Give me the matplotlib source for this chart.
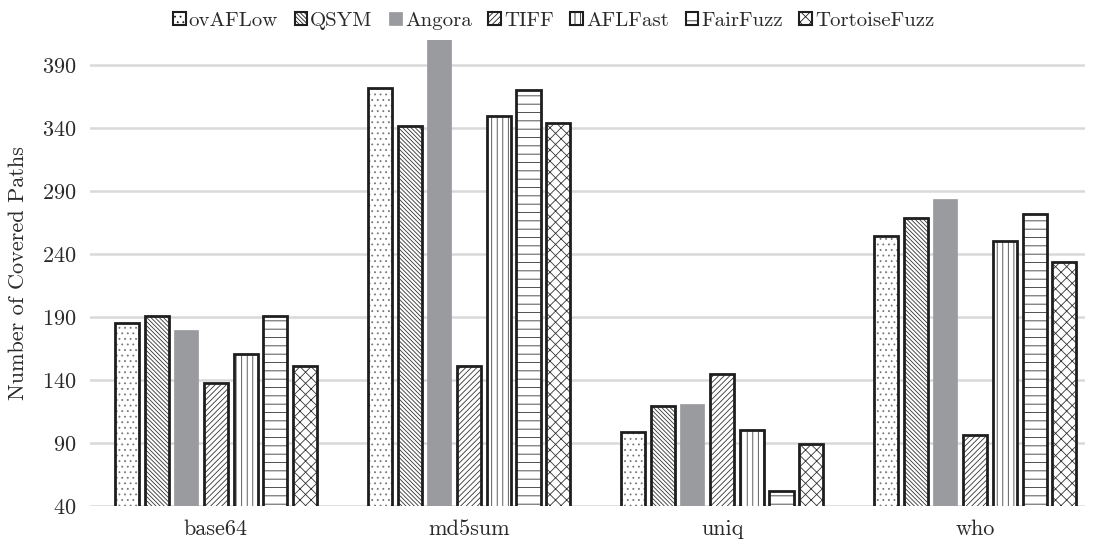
import numpy as np
import matplotlib.pyplot as plt
from matplotlib.patches import Patch

plt.rcParams["font.family"] = ["cmr10", "DejaVu Serif"]
plt.rcParams["axes.formatter.use_mathtext"] = True
plt.rcParams["mathtext.fontset"] = "cm"
plt.rcParams["hatch.linewidth"] = 0.6

programs = ["base64", "md5sum", "uniq", "who"]
fuzzers = ["ovAFLow", "QSYM", "Angora", "TIFF", "AFLFast", "FairFuzz", "TortoiseFuzz"]

ovaflow = [185, 372, 99, 254]
qsym = [191, 342, 119, 269]
angora = [180, 420, 121, 284]
tiff = [138, 151, 145, 96]
aflfast = [161, 350, 100, 250]
fairfuzz = [191, 370, 52, 272]
tortoise = [151, 344, 89, 234]

series = [ovaflow, qsym, angora, tiff, aflfast, fairfuzz, tortoise]
hatches = ["...", "\\" * 8, None, "/" * 6, "|||", "--", "xxx"]
hatch_colors = ["#777777", "#333333", None, "#333333", "#444444", "#333333", "#333333"]
grey = "#9a9b9f"

fig = plt.figure(figsize=(10.96, 5.40), dpi=100)
ax = fig.add_axes([0.0821, 0.063, 0.908, 0.863])

x = np.arange(len(programs))
step = 0.1175
width = 0.095
handles = []
for i, vals in enumerate(series):
    pos = x + (i - 3) * step
    if hatches[i] is None:
        ax.bar(pos, vals, width, color=grey, edgecolor=grey, linewidth=0.5, zorder=3)
        handles.append(Patch(facecolor=grey, edgecolor=grey, linewidth=0.5))
        continue
    # hatch layer first, then the black outline on top
    ax.bar(pos, vals, width, color="white", edgecolor=hatch_colors[i],
           hatch=hatches[i], linewidth=0, zorder=3)
    ax.bar(pos, vals, width, fill=False, edgecolor="#1e1e1e", linewidth=2, zorder=4)
    handles.append(Patch(facecolor="white", edgecolor="#1e1e1e", hatch=hatches[i],
                         linewidth=1.5))

ax.set_ylim(40, 410)
ax.set_xlim(-0.498, 3.435)
ax.set_yticks(np.arange(40, 391, 50))
ax.set_xticks(x)
ax.set_xticklabels(programs)
ax.tick_params(axis="both", length=0, labelsize=16, pad=10, labelcolor="#2a2a2a")
ax.grid(axis="y", color="#d9d9d9", linewidth=1.8, zorder=0)
for s in ax.spines.values():
    s.set_visible(False)
ax.set_ylabel("Number of Covered Paths", fontsize=16, labelpad=10, color="#2a2a2a")

ax.legend(handles, fuzzers, loc="lower center", bbox_to_anchor=(0.466, 1.0), ncol=7,
          frameon=False, fontsize=15, handlelength=0.6, handleheight=0.6,
          handletextpad=0.15, columnspacing=0.8, borderaxespad=0.1,
          labelcolor="#2a2a2a")

fig.savefig("out.png", dpi=100)
